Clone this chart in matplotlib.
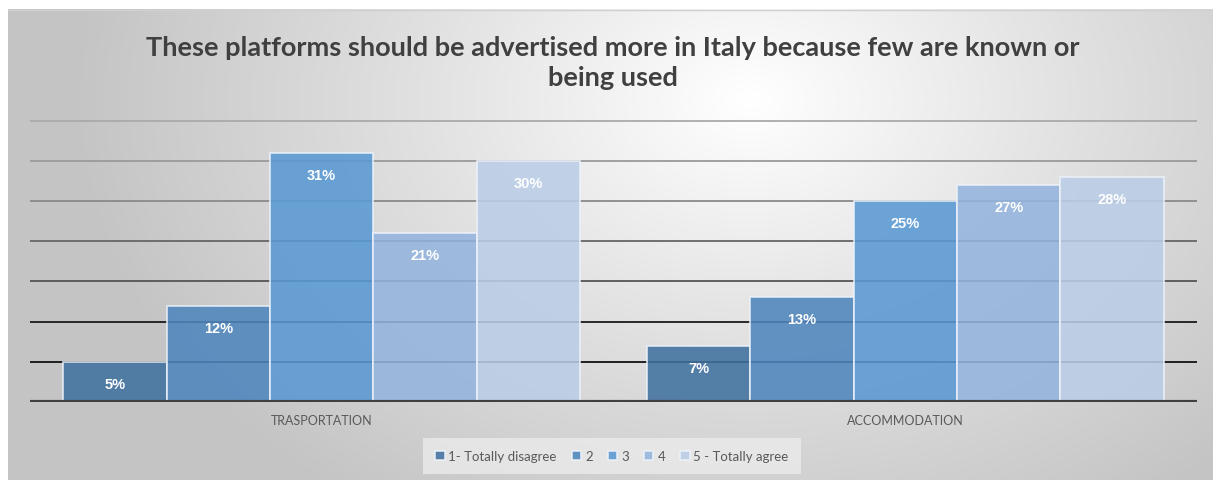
import numpy as np
import matplotlib.pyplot as plt
from matplotlib.colors import LinearSegmentedColormap

categories = ["TRASPORTATION", "ACCOMMODATION"]
series = ["1- Totally disagree", "2", "3", "4", "5 - Totally agree"]
values = {
    "1- Totally disagree": [5, 7],
    "2": [12, 13],
    "3": [31, 25],
    "4": [21, 27],
    "5 - Totally agree": [30, 28],
}
title = "These platforms should be advertised more in Italy because few are known or\nbeing used"

colors = ["#40719F", "#4E86BD", "#5999D4", "#94B5DE", "#BACDE7"]
grid_colors = ["#111111", "#1a1a1a", "#555555", "#666666", "#8a8a8a", "#9a9a9a", "#aaaaaa"]

W, H = 1213, 481
fig = plt.figure(figsize=(W / 100, H / 100), dpi=100)
fig.patch.set_facecolor("white")

# radial grey background of the chart frame
bg = fig.add_axes([8 / W, 0, 1 - 8 / W, 1 - 10 / H], zorder=0)
yy, xx = np.mgrid[0:471, 0:1205]
d = np.sqrt(((xx - 740) / 680.0) ** 2 + ((yy - 90) / 500.0) ** 2)
d = np.clip(d, 0, 1)
cmap = LinearSegmentedColormap.from_list("bg", ["#ffffff", "#e0e0e0", "#c4c4c4"])
bg.imshow(d, cmap=cmap, aspect="auto", vmin=0, vmax=1, interpolation="bilinear")
bg.axis("off")
fig.add_artist(plt.Line2D([8 / W, 1], [1 - 10.5 / H, 1 - 10.5 / H], color="#d0d0d0", lw=1))

# plot area
left, right, top, bottom = 30, 1197, 112, 403
ax = fig.add_axes([left / W, 1 - bottom / H, (right - left) / W, (bottom - top) / H], zorder=1)
ax.patch.set_alpha(0)
ax.set_xlim(-0.5, 1.5)
ax.set_ylim(0, 36.2)

for i, g in enumerate(range(5, 40, 5)):
    ax.axhline(g, color=grid_colors[i], lw=1.3, zorder=1)
ax.axhline(0, color="#404040", lw=3, zorder=4)

n = len(series)
group_w = 0.886
bw = group_w / n
x = np.arange(len(categories))
for k, s in enumerate(series):
    pos = x - group_w / 2 + bw * (k + 0.5)
    bars = ax.bar(pos, values[s], width=bw, color=colors[k], alpha=0.88,
                  edgecolor="#eef3fa", linewidth=1.2, zorder=2, label=s)
    for b, v in zip(bars, values[s]):
        ax.annotate(f"{v}%", (b.get_x() + b.get_width() / 2, v), xytext=(0, -22),
                    textcoords="offset pixels",
                    ha="center", va="center", color="white", fontsize=10.5,
                    fontweight="bold", family="Liberation Sans", zorder=5)

ax.set_xticks(x)
ax.set_xticklabels(categories, color="#595959", fontsize=9, family="Lato")
ax.tick_params(axis="x", length=0, pad=9)
ax.set_yticks([])
for sp in ax.spines.values():
    sp.set_visible(False)

fig.text(613 / W, 1 - 63 / H, title, ha="center", va="center", fontsize=19.5,
         fontweight="bold", color="#404040", family="Lato", linespacing=1.32)

leg = fig.legend(loc="center", bbox_to_anchor=(612 / W, 1 - 457 / H), ncol=5,
                 frameon=True, handlelength=0.7, handleheight=0.7,
                 handletextpad=0.3, columnspacing=1.15, borderpad=0.6,
                 prop={"family": "Lato", "size": 9.5})
leg.get_frame().set_facecolor("#ebebeb")
leg.get_frame().set_edgecolor("none")
leg.get_frame().set_boxstyle("square")
for t in leg.get_texts():
    t.set_color("#595959")

fig.savefig("out.png", dpi=100)
